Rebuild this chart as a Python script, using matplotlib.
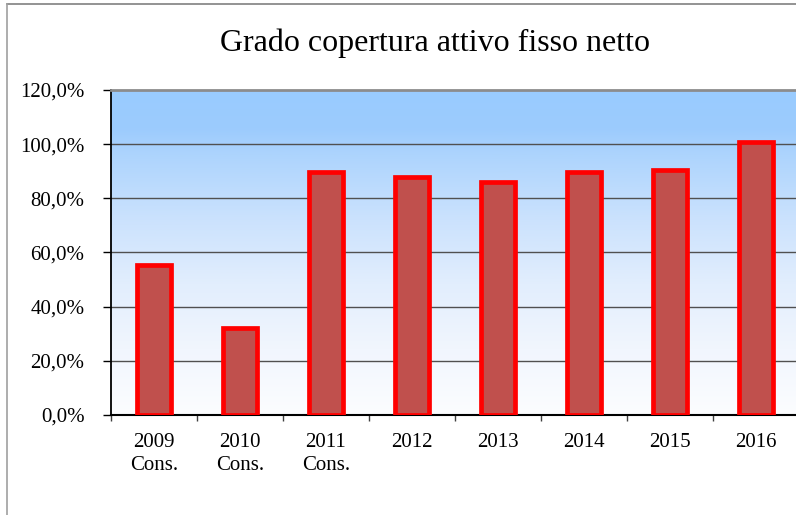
import numpy as np
import matplotlib
matplotlib.use("Agg")
import matplotlib.pyplot as plt
from matplotlib.lines import Line2D
from matplotlib.colors import LinearSegmentedColormap

plt.rcParams['font.family'] = ['Liberation Serif', 'DejaVu Serif']

categories = ['2009\nCons.', '2010\nCons.', '2011\nCons.', '2012', '2013', '2014', '2015', '2016']
values = [55.4, 32.0, 89.6, 88.0, 86.0, 89.9, 90.5, 100.9]
yticks = [0, 20, 40, 60, 80, 100, 120]

fig = plt.figure(figsize=(7.96, 5.15), dpi=100)
ax = fig.add_axes([111/796, 100/515, 688/796, 325/515])

# plot area background: light blue at top fading to white at bottom
grad_cmap = LinearSegmentedColormap.from_list(
    'bg', [(0.0, '#FCFDFF'), (0.2, '#F1F6FE'), (0.4, '#E2EEFD'),
           (0.6, '#CBE2FD'), (0.8, '#ADD4FD'), (0.88, '#9CCBFD'), (1.0, '#99CCFF')])
grad = np.linspace(0, 1, 256).reshape(-1, 1)
ax.imshow(grad, cmap=grad_cmap, aspect='auto', origin='lower',
          extent=[0, 1, 0, 1], transform=ax.transAxes, zorder=0)

x = np.arange(len(categories))
ax.bar(x, values, width=0.4, color='#C0504D', edgecolor='#FF0000',
       linewidth=3.4, zorder=3)

ax.set_xlim(-0.5, len(categories) - 0.5)
ax.set_ylim(0, 120)
ax.set_yticks(yticks)
ax.set_yticklabels([f"{v},0%" for v in yticks], fontsize=15)
for v in yticks[1:-1]:
    ax.axhline(v, color='#505050', linewidth=1.0, zorder=1)

ax.set_xticks(x)
ax.set_xticklabels(categories, fontsize=15, linespacing=1.3)
ax.set_xticks(np.arange(-0.5, len(categories), 1), minor=True)
ax.tick_params(axis='x', which='major', length=0, pad=13)
ax.tick_params(axis='x', which='minor', length=4, width=1, color='#404040')
ax.tick_params(axis='y', length=6, width=1, pad=13)

ax.spines['right'].set_visible(False)
ax.spines['top'].set_color('#8C8C8C')
ax.spines['top'].set_linewidth(2)
ax.spines['left'].set_linewidth(1.3)
ax.spines['bottom'].set_linewidth(1.5)

fig.text(435/796, 1 - 43/515, 'Grado copertura attivo fisso netto',
         fontsize=23, ha='center', va='center')

# chart area border
fig.add_artist(Line2D([7/796, 1], [1 - 4/515, 1 - 4/515], color='#808080',
                      linewidth=1.2, transform=fig.transFigure))
fig.add_artist(Line2D([7/796, 7/796], [0, 1 - 4/515], color='#A0A0A0',
                      linewidth=1.2, transform=fig.transFigure))

fig.savefig('out.png', dpi=100)
